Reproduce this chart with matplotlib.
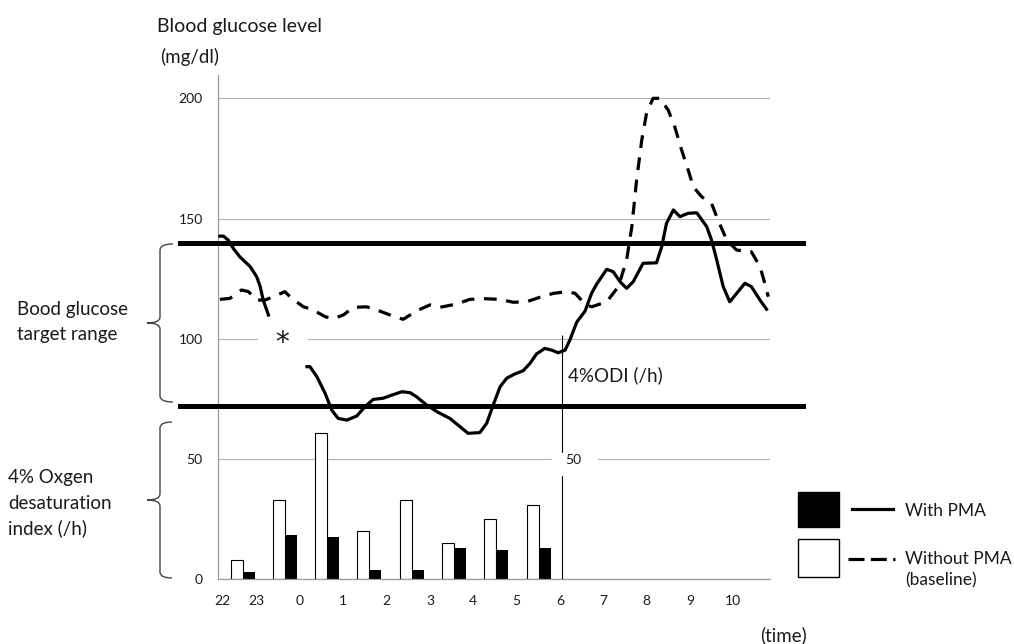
import numpy as np
import matplotlib.pyplot as plt
from matplotlib.path import Path
from matplotlib.patches import PathPatch, Rectangle

plt.rcParams['font.family'] = ['Lato', 'DejaVu Sans']

# x axis: hours after midnight (22 and 23 are shown before 0)
tick_pos = [-1.8, -1.0, 0, 1, 2, 3, 4, 5, 6, 7, 8, 9, 10]
tick_labels = ['22', '23', '0', '1', '2', '3', '4', '5', '6', '7', '8', '9', '10']

# blood glucose with PMA (solid), nan = missing part marked with *
with_t = [-1.85, -1.77, -1.66, -1.54, -1.39, -1.15, -1.0, -0.92, -0.85, -0.73, np.nan,
          0.16, 0.23, 0.39, 0.58, 0.73, 0.88, 1.08, 1.31, 1.5, 1.69, 1.92, 2.12, 2.35,
          2.54, 2.69, 2.92, 3.16, 3.46, 3.69, 3.88, 4.15, 4.31, 4.46, 4.62, 4.77, 4.96,
          5.15, 5.31, 5.46, 5.65, 5.81, 5.96, 6.12, 6.23, 6.39, 6.58, 6.73, 6.85, 7.08,
          7.23, 7.39, 7.54, 7.69, 7.92, 8.23, 8.35, 8.46, 8.62, 8.77, 8.96, 9.16, 9.39,
          9.5, 9.62, 9.77, 9.92, 10.08, 10.27, 10.42, 10.62, 10.77]
with_bg = [142.7, 142.7, 141.1, 137.6, 134.1, 130.0, 125.8, 121.7, 116.1, 109.9, np.nan,
           88.4, 88.4, 84.2, 77.3, 70.4, 66.9, 66.2, 67.9, 71.8, 74.8, 75.3, 76.6, 78.0,
           77.6, 75.9, 72.5, 69.7, 66.9, 63.5, 60.7, 61.0, 64.9, 72.5, 80.1, 83.6, 85.4,
           86.7, 89.8, 93.7, 96.0, 95.3, 94.2, 95.3, 99.5, 107.0, 111.5, 118.9, 122.8, 128.9,
           127.9, 123.7, 121.0, 123.7, 131.4, 131.6, 138.3, 148.0, 153.6, 150.8, 152.2, 152.4, 146.6,
           141.1, 132.8, 121.7, 115.4, 118.9, 123.1, 121.7, 116.1, 112.3]

# blood glucose without PMA (baseline, dashed)
without_t = [-1.85, -1.62, -1.35, -1.19, -1.0, -0.81, -0.62, -0.35, -0.19, 0.08, 0.27,
             0.58, 0.77, 1.0, 1.23, 1.54, 1.77, 2.08, 2.38, 2.54, 2.65, 3.0, 3.23, 3.62,
             3.92, 4.23, 4.62, 4.92, 5.23, 5.54, 5.85, 6.15, 6.35, 6.58, 6.73, 7.08, 7.35,
             7.54, 7.66, 7.77, 7.89, 8.0, 8.15, 8.31, 8.5, 8.65, 8.81, 8.96, 9.08, 9.27,
             9.5, 9.65, 9.85, 10.08, 10.42, 10.62, 10.73, 10.81]
without_bg = [116.4, 116.8, 120.3, 119.6, 116.1, 116.1, 117.5, 119.6, 116.8, 113.3, 112.3,
              109.2, 108.4, 109.9, 113.1, 113.3, 112.0, 109.9, 108.1, 109.9, 111.3, 114.1, 113.1, 114.5,
              116.4, 116.7, 116.4, 115.2, 115.4, 117.3, 118.9, 119.6, 118.9, 114.5, 113.3, 115.4, 121.7,
              132.8, 146.6, 166.0, 182.7, 193.8, 200.0, 200.0, 195.1, 188.2, 178.5, 170.2, 163.2, 159.1,
              156.3, 149.4, 141.1, 136.9, 136.2, 130.0, 123.1, 117.5]

# 4% oxygen desaturation index (/h), one pair of bars per hour
bar_t = [-1.32, -0.35, 0.62, 1.59, 2.58, 3.55, 4.52, 5.52]
odi_without = [8, 33, 61, 20, 33, 15, 25, 31]
odi_with = [3, 18.5, 17.5, 4, 4, 13, 12, 13]

target_low, target_high = 72, 140
odi_axis_at = 6.05

W, H = 1014, 644
fig = plt.figure(figsize=(W / 100, H / 100), dpi=100)
ax = fig.add_axes([218 / W, 1 - 579.3 / H, (770 - 218) / W, (579.3 - 75) / H])
ax.set_xlim(-1.894, 10.85)
ax.set_ylim(0, 209.7)

bw = 0.28
ax.bar(np.array(bar_t) - bw / 2, odi_without, width=bw, color='white',
       edgecolor='black', linewidth=0.8, zorder=2)
ax.bar(np.array(bar_t) + bw / 2, odi_with, width=bw, color='black', zorder=2)

ax.plot(with_t, with_bg, color='black', lw=2.3, zorder=4, solid_joinstyle='round')
ax.plot(without_t, without_bg, color='black', lw=2.3, dashes=(4, 3), zorder=4,
        dash_joinstyle='round')

# target range lines run past the plot on both sides
for v in (target_low, target_high):
    ax.axhline(v, xmin=-0.069, xmax=1.06, color='black', lw=3.6, clip_on=False, zorder=3)

# small axis for the ODI at 6 o'clock
ax.vlines(odi_axis_at, 0, 101.5, color='black', lw=0.8, zorder=3)
ax.text(6.18, 85, '4%ODI (/h)', fontsize=13.5, color='#1a1a1a', va='center')

ax.set_yticks([0, 50, 100, 150, 200])
ax.set_xticks(tick_pos)
ax.set_xticklabels(tick_labels)
ax.yaxis.grid(True, color='#b4b4b4', lw=0.8)
ax.set_axisbelow(True)
for s in ('top', 'right'):
    ax.spines[s].set_visible(False)
for s in ('left', 'bottom'):
    ax.spines[s].set_color('#9a9a9a')
    ax.spines[s].set_linewidth(0.9)
ax.tick_params(length=0, pad=11, labelsize=10, labelcolor='#1a1a1a')

# overlay in pixel coords for the notes, braces and legend
ov = fig.add_axes([0, 0, 1, 1])
ov.set_xlim(0, W)
ov.set_ylim(H, 0)
ov.axis('off')

def brace(x_end, x_mid, x_tip, y0, y1, r=6):
    ym = (y0 + y1) / 2
    verts = [(x_end, y0), (x_mid, y0), (x_mid, y0 + r),
             (x_mid, ym - r), (x_mid, ym), (x_tip, ym),
             (x_mid, ym), (x_mid, ym + r),
             (x_mid, y1 - r), (x_mid, y1), (x_end, y1)]
    codes = [Path.MOVETO, Path.CURVE3, Path.CURVE3, Path.LINETO, Path.CURVE3, Path.CURVE3,
             Path.CURVE3, Path.CURVE3, Path.LINETO, Path.CURVE3, Path.CURVE3]
    ov.add_patch(PathPatch(Path(verts, codes), fill=False, edgecolor='#444444', lw=1))

brace(173, 160, 147, 244, 402)
brace(172, 160, 147, 422, 578)

txt = dict(fontsize=13.5, color='#1a1a1a', va='center', ha='left')
ov.text(157, 26, 'Blood glucose level', fontsize=14, color='#1a1a1a', va='center')
ov.text(160, 57, '(mg/dl)', **txt)
ov.text(17, 309, 'Bood glucose', **txt)
ov.text(17, 334, 'target range', **txt)
ov.text(8, 477, '4% Oxgen', **txt)
ov.text(8, 503, 'desaturation', **txt)
ov.text(8, 528, 'index (/h)', **txt)
ov.text(760, 635, '(time)', **txt)

# gaps in the grid for the * mark and the 50 label
ov.add_patch(Rectangle((258, 332), 49, 13, color='white', zorder=1))
ov.text(282, 343, '*', fontsize=20, family='DejaVu Sans', ha='center', va='center',
        color='#1a1a1a', zorder=2)
ov.add_patch(Rectangle((552, 453), 45, 22, color='white', zorder=1))
ov.text(573, 460, '50', fontsize=10, ha='center', va='center', color='#1a1a1a', zorder=2)

# legend
ov.add_patch(Rectangle((798, 492), 41, 35, facecolor='black', edgecolor='black'))
ov.add_patch(Rectangle((798, 539), 41, 38, facecolor='white', edgecolor='black', lw=1))
ov.plot([852, 893], [509, 509], color='black', lw=2.3)
ov.plot([848, 895], [559, 559], color='black', lw=2.3, dashes=(5, 2))
leg = dict(fontsize=12.5, color='#1a1a1a', va='center', ha='left')
ov.text(905, 511, 'With PMA', **leg)
ov.text(905, 559, 'Without PMA', **leg)
ov.text(905, 580, '(baseline)', **leg)

fig.savefig('out.png', dpi=100)
